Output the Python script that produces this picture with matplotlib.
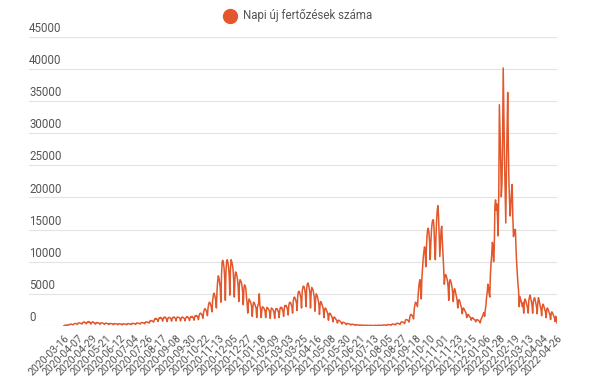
import matplotlib
matplotlib.use("Agg")
import matplotlib.pyplot as plt
from matplotlib.lines import Line2D
import numpy as np

plt.rcParams["font.family"] = ["Roboto", "DejaVu Sans"]

SERIES_NAME = "Napi új fertőzések száma"
LINE_COLOR = "#e2582c"

# daily new cases, one row per week
DAILY_CASES = [
    50, 80, 120, 100, 150, 180, 150,
    120, 200, 250, 280, 300, 260, 220,
    180, 300, 350, 380, 400, 350, 300,
    250, 420, 480, 500, 450, 420, 380,
    300, 500, 600, 550, 620, 500, 450,
    350, 550, 650, 600, 700, 550, 500,
    300, 500, 600, 650, 550, 500, 450,
    280, 450, 550, 500, 520, 450, 400,
    250, 420, 500, 480, 450, 420, 380,
    250, 380, 450, 420, 400, 380, 350,
    220, 350, 400, 380, 360, 340, 320,
    200, 320, 380, 350, 340, 320, 300,
    200, 300, 350, 330, 320, 300, 280,
    180, 300, 340, 320, 300, 290, 280,
    200, 320, 380, 350, 340, 320, 300,
    220, 350, 420, 400, 380, 360, 340,
    250, 400, 480, 450, 430, 400, 380,
    300, 450, 550, 520, 500, 480, 450,
    350, 550, 650, 620, 600, 580, 550,
    450, 700, 850, 800, 820, 780, 700,
    600, 950, 1150, 1100, 1200, 1050, 950,
    700, 1100, 1300, 1250, 1350, 1200, 1100,
    750, 1150, 1350, 1300, 1400, 1250, 1100,
    700, 1100, 1300, 1350, 1300, 1250, 1100,
    750, 1150, 1350, 1300, 1400, 1300, 1150,
    800, 1200, 1400, 1350, 1350, 1300, 1200,
    800, 1150, 1350, 1400, 1300, 1250, 1150,
    800, 1200, 1400, 1350, 1450, 1300, 1200,
    850, 1250, 1450, 1400, 1500, 1350, 1250,
    900, 1350, 1600, 1550, 1650, 1500, 1350,
    1000, 1600, 1900, 2000, 1950, 1800, 1600,
    1200, 2100, 2500, 2700, 2600, 2400, 2200,
    1600, 2800, 3400, 3700, 3600, 3300, 3000,
    2200, 3800, 4600, 5100, 4900, 4500, 4000,
    2800, 5500, 7000, 7800, 7500, 6800, 6000,
    3700, 8000, 10000, 10200, 9800, 9000, 7500,
    4000, 8500, 10100, 10300, 9900, 9200, 7800,
    4800, 8800, 10300, 10000, 9500, 8800, 7200,
    4500, 7500, 8400, 8200, 7800, 7200, 6200,
    3800, 6500, 7200, 7000, 6800, 6200, 5300,
    3300, 5800, 6400, 6200, 5800, 4500, 3500,
    2000, 3500, 4200, 4000, 3800, 3500, 3000,
    1500, 3000, 3700, 3600, 3400, 3100, 2800,
    1300, 2800, 3300, 3500, 5000, 3200, 2600,
    1300, 2500, 3000, 2900, 2800, 2600, 2300,
    1300, 2400, 2900, 2800, 2700, 2500, 2200,
    1200, 2300, 2800, 2700, 2600, 2400, 2100,
    1200, 2200, 2700, 2600, 2700, 2400, 2100,
    1300, 2400, 2900, 2800, 2900, 2600, 2300,
    1500, 2700, 3200, 3100, 3200, 2900, 2600,
    1700, 3100, 3600, 3700, 3600, 3300, 3000,
    2000, 3800, 4400, 4500, 4300, 4000, 3600,
    2400, 4600, 5300, 5400, 5200, 4800, 4300,
    2800, 5300, 6000, 6200, 6100, 5600, 5000,
    3000, 5800, 6500, 6700, 6400, 5800, 5200,
    2800, 5200, 6000, 5800, 5600, 5000, 4400,
    2300, 4300, 5000, 4800, 4500, 4000, 3500,
    1800, 3300, 3800, 3600, 3300, 3000, 2600,
    1300, 2500, 2800, 2700, 2400, 2200, 1900,
    900, 1800, 2000, 1900, 1700, 1500, 1300,
    650, 1200, 1400, 1300, 1150, 1000, 900,
    450, 800, 900, 850, 750, 650, 550,
    300, 500, 600, 550, 480, 420, 380,
    200, 350, 400, 380, 330, 300, 260,
    150, 250, 280, 260, 230, 210, 190,
    100, 180, 200, 190, 170, 150, 140,
    80, 130, 150, 140, 130, 120, 110,
    60, 100, 120, 110, 100, 95, 90,
    50, 90, 110, 100, 95, 90, 85,
    50, 90, 110, 105, 100, 95, 90,
    60, 110, 130, 120, 115, 110, 100,
    80, 140, 170, 160, 150, 140, 130,
    100, 190, 230, 220, 210, 190, 170,
    130, 260, 310, 300, 280, 260, 230,
    180, 360, 430, 420, 400, 370, 330,
    250, 520, 640, 620, 600, 560, 500,
    380, 800, 1000, 980, 950, 900, 800,
    600, 1300, 1700, 1800, 1750, 1600, 1400,
    1100, 2600, 3300, 3700, 3600, 3300, 3000,
    4500, 6000, 6800, 7200, 5500, 4200, 7500,
    9000, 10500, 11500, 12300, 12000, 9200, 12000,
    14000, 15000, 15200, 14500, 13000, 10300, 13000,
    15000, 16000, 16500, 16500, 15000, 12000, 10300,
    14000, 16500, 18000, 18700, 17000, 14000, 10800,
    13000, 15000, 15500, 13000, 11000, 9000, 6500,
    7700, 8000, 7800, 7400, 7000, 6000, 4000,
    6800, 7200, 7000, 6600, 6000, 5200, 3800,
    5400, 5800, 5500, 5000, 4500, 4000, 2800,
    3800, 4100, 3900, 3500, 3100, 2800, 1900,
    2600, 2800, 2600, 2400, 2200, 2000, 1300,
    1700, 1800, 1700, 1500, 1400, 1300, 900,
    1200, 1300, 1200, 1100, 1000, 950, 650,
    900, 1000, 950, 900, 800, 700, 470,
    900, 1200, 1400, 1600, 1900, 2100, 1500,
    2500, 3200, 4500, 5200, 6500, 6100, 5000,
    4500, 8000, 9800, 11000, 13000, 12500, 10000,
    12000, 18600, 19600, 18000, 19000, 17000, 14000,
    20000, 34400, 30000, 26000, 20100, 22000, 28000,
    40100, 33000, 26000, 21000, 16000, 24000, 30000,
    36300, 28000, 22000, 19000, 17100, 19000, 21000,
    22000, 17000, 13900, 14500, 15000, 15000, 12000,
    9800, 8000, 6500, 5500, 3000, 4600, 4200,
    3800, 3500, 3000, 3600, 2000, 3800, 4200,
    4000, 3600, 3200, 2800, 2000, 4000, 4500,
    4800, 4300, 3800, 3200, 2000, 3800, 4200,
    4400, 4000, 3500, 3000, 1900, 3500, 4400,
    4000, 3500, 3000, 2600, 1600, 3000, 3400,
    3200, 2900, 2500, 2200, 1300, 2600, 2800,
    2600, 2300, 2000, 1700, 1000, 2000, 2200,
    2000, 1800, 1500, 1300, 700, 1500, 1200,
    470,
]

TICK_LABELS = [
    "2020-03-16", "2020-04-07", "2020-04-29", "2020-05-21", "2020-06-12",
    "2020-07-04", "2020-07-26", "2020-08-17", "2020-09-08", "2020-09-30",
    "2020-10-22", "2020-11-13", "2020-12-05", "2020-12-27", "2021-01-18",
    "2021-02-09", "2021-03-03", "2021-03-25", "2021-04-16", "2021-05-08",
    "2021-05-30", "2021-06-21", "2021-07-13", "2021-08-05", "2021-08-27",
    "2021-09-18", "2021-10-10", "2021-11-01", "2021-11-23", "2021-12-15",
    "2022-01-06", "2022-01-28", "2022-02-19", "2022-03-13", "2022-04-04",
    "2022-04-26",
]
TICK_STEP = 22
Y_TICKS = [0, 5000, 10000, 15000, 20000, 25000, 30000, 35000, 40000, 45000]

W, H = 603, 385
fig = plt.figure(figsize=(W / 100, H / 100), dpi=100)
ax = fig.add_axes([29 / W, 1 - 326 / H, (557 - 29) / W, (326 - 36.5) / H])

n = len(DAILY_CASES)
x = np.arange(n)
ax.plot(x, DAILY_CASES, color=LINE_COLOR, lw=1.1, solid_joinstyle="round", zorder=3)

# data starts 35 px right of the gridline start
span = n - 1
left = -35 / (557 - 64) * span
ax.set_xlim(left, span)
ax.set_ylim(0, 45000)

for s in ax.spines.values():
    s.set_visible(False)

ax.set_yticks([])
for v in Y_TICKS:
    ax.axhline(v, color="#cccccc" if v == 0 else "#e3e3e3", lw=0.8, zorder=1)
    ax.annotate(str(v), xy=(0, v), xycoords=("axes fraction", "data"),
                xytext=(0, 1.2), textcoords="offset points",
                ha="left", va="bottom", fontsize=8.3, color="#555555")

ticks = np.arange(0, n, TICK_STEP)[:len(TICK_LABELS)]
ax.set_xticks(ticks)
ax.set_xticklabels(TICK_LABELS[:len(ticks)], rotation=45, ha="right",
                   rotation_mode="anchor", fontsize=7.6, color="#555555")
ax.tick_params(axis="x", length=0, pad=5)

# legend at the top
fig.add_artist(Line2D([229.5 / W], [1 - 16 / H], marker="o", markersize=10,
                      color=LINE_COLOR, linestyle="none"))
fig.text(243 / W, 1 - 16 / H, SERIES_NAME, ha="left", va="center",
         fontsize=8.3, color="#555555")

fig.savefig("out.png", dpi=100)
